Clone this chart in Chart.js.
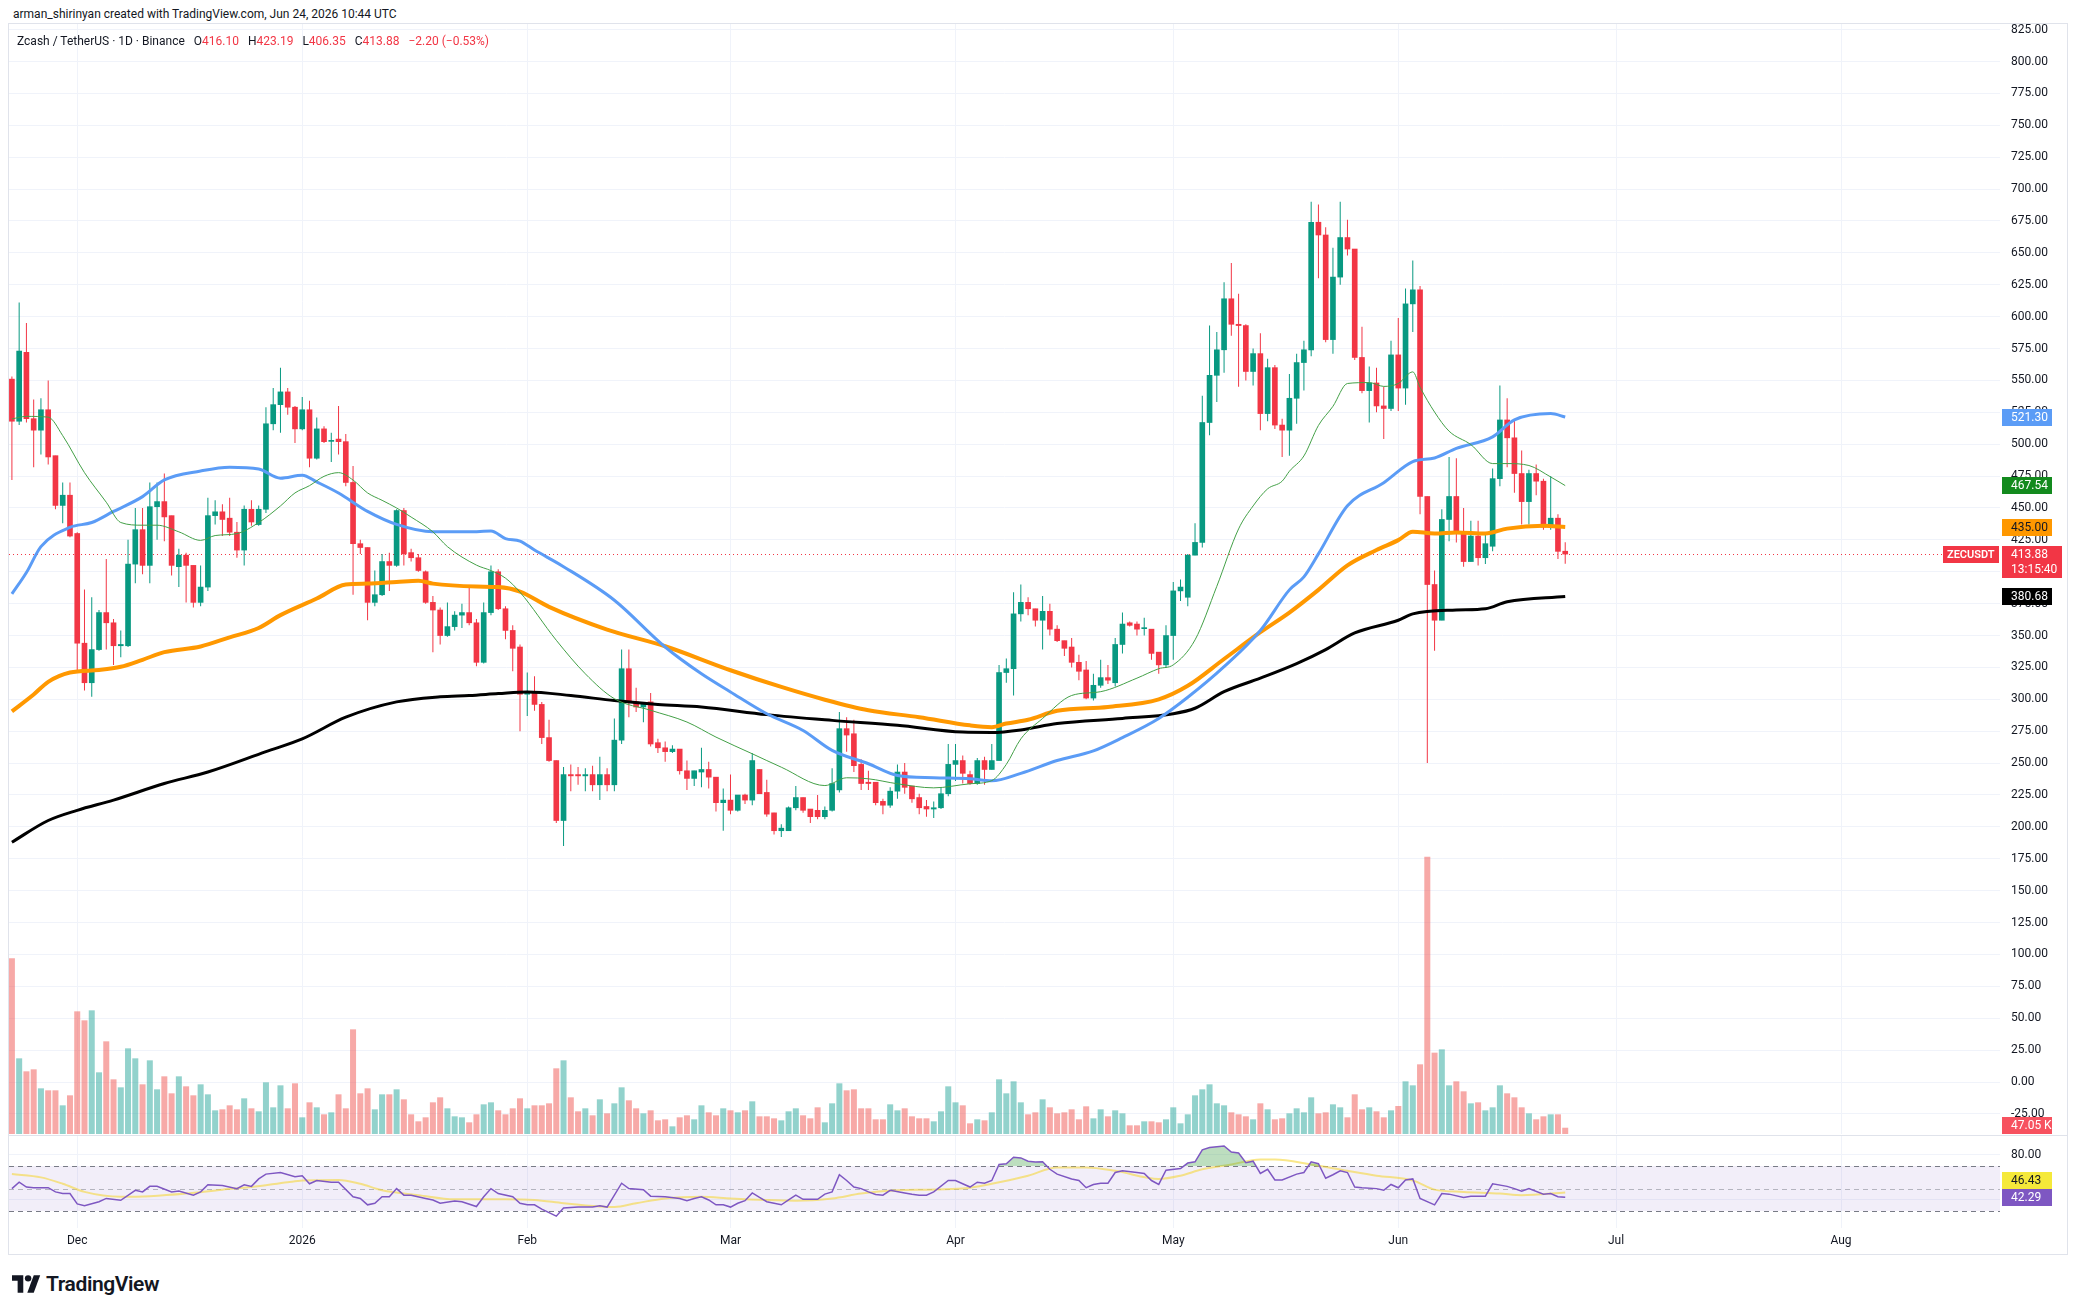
<!DOCTYPE html>
<html>
<head>
<meta charset="utf-8">
<title>ZECUSDT 1D</title>
<script src="https://cdn.jsdelivr.net/npm/chart.js@4.4.1/dist/chart.umd.min.js"></script>
<style>
  html, body { margin: 0; padding: 0; background: #ffffff; }
  body { width: 2078px; height: 1314px; position: relative; overflow: hidden; font-family: Roboto, "Noto Sans", sans-serif; color: #131722; }
  #credit { position: absolute; left: 13px; top: 7px; font-size: 12px; white-space: nowrap; }
  #frame { position: absolute; left: 8px; top: 23px; width: 2060px; height: 1232px; border: 1px solid #e0e3eb; box-sizing: border-box; }
  #paneSep { position: absolute; left: 9px; top: 1135px; width: 2058px; height: 1px; background: #e0e3eb; }
  #mainWrap { position: absolute; left: 9px; top: 24px; }
  #rsiWrap { position: absolute; left: 9px; top: 1136px; }
  #legend { position: absolute; left: 17px; top: 34px; font-size: 12px; white-space: nowrap; z-index: 2; }
  #legend .v { color: #f23645; }
  #legend .gap { margin-left: 9px; }
  #logo { position: absolute; left: 12px; top: 1272px; display: flex; align-items: center; }
  #logo span { font-size: 21px; font-weight: 600; letter-spacing: -0.4px; margin-left: 5px; color: #131722; }
</style>
</head>
<body>
<div id="credit">arman_shirinyan created with TradingView.com, Jun 24, 2026 10:44 UTC</div>
<div id="frame"></div>
<div id="mainWrap"><canvas id="mainChart" width="2058" height="1110"></canvas></div>
<div id="paneSep"></div>
<div id="rsiWrap"><canvas id="rsiChart" width="2058" height="118"></canvas></div>
<div id="legend">Zcash / TetherUS · 1D · Binance<span class="gap">O</span><span class="v">416.10</span><span class="gap">H</span><span class="v">423.19</span><span class="gap">L</span><span class="v">406.35</span><span class="gap">C</span><span class="v">413.88</span><span class="v gap">−2.20 (−0.53%)</span></div>
<div id="logo">
  <svg width="29" height="18" viewBox="0 0 36 22"><path d="M14 22H7V7H0V0h14v22z" fill="#131722"/><circle cx="20" cy="4" r="4" fill="#131722"/><path d="M27 22h-8l8-22h8l-8 22z" fill="#131722"/></svg>
  <span>TradingView</span>
</div>
<script>
// ZEC/USDT daily candles, Nov 22 2025 .. Jun 24 2026. Day 0 = Dec 1 2025.
const firstDay = -9;

const opens = [
  551, 518, 572, 520, 511, 527, 491, 452, 460,
  430, 344, 313, 339, 368, 360, 342, 342, 406, 433,
  405, 451, 455, 444, 404, 413, 405, 376, 388, 444,
  447, 442, 431, 417, 449, 437, 449, 516, 531, 541,
  529, 512, 527, 489, 512, 503, 504, 502, 470, 422,
  419, 376, 382, 408, 405, 448, 415, 411, 400, 376,
  370, 350, 357, 366, 368, 360, 329, 368, 400, 371,
  354, 341, 304, 305, 296, 270, 252, 205, 241, 241,
  240, 241, 233, 241, 233, 268, 324, 298, 294, 298,
  266, 262, 259, 261, 244, 238, 243, 245, 239, 219,
  221, 213, 225, 221, 245, 227, 211, 197, 197, 215,
  223, 214, 213, 208, 213, 229, 277, 273, 249, 235,
  235, 220, 217, 228, 243, 232, 223, 216, 214, 215,
  226, 249, 252, 241, 234, 252, 245, 252, 321, 324,
  367, 376, 371, 362, 369, 355, 346, 341, 329, 323,
  301, 311, 317, 313, 343, 360, 359, 355.4, 355, 337,
  327, 350, 385, 380, 413, 423, 517, 554, 574, 614,
  594, 593, 557, 571, 524, 560, 515, 511, 536, 564,
  574, 674, 664, 582, 631, 662, 653, 568, 542, 548,
  530, 528, 570, 544, 610, 621, 459, 390, 362, 441,
  459, 431, 408, 428, 411, 420, 473, 519, 505, 477,
  455, 477, 471, 435, 442, 416.10
];
const highs = [
  553, 611, 595, 535, 536, 550, 491, 470, 470,
  431, 386, 380, 370, 410, 363, 354, 425, 450, 450,
  470, 470, 477, 444, 418, 415, 405, 405, 458, 456,
  453, 458, 439, 452, 456, 452, 529, 544, 560, 544,
  530, 537, 534, 521, 514, 509, 530, 508, 483, 425,
  419, 401, 414, 415, 449, 450, 418, 414, 401, 381,
  372, 376, 369, 375, 388, 363, 376, 405, 402, 373,
  358, 343, 321, 318, 298, 284, 252, 247, 249, 247,
  246, 248, 255, 246, 285, 339, 339, 309, 297, 305,
  269, 267, 264, 261, 252, 244, 262, 251, 239, 230,
  241, 225, 226, 258, 245, 237, 211, 202, 216, 232,
  223, 214, 225, 216, 246, 290, 286, 284, 253, 244,
  235, 222, 231, 249, 250, 232, 226, 221, 220, 231,
  265, 265, 256, 244, 254, 255, 265, 327, 332, 384,
  390, 380, 371, 381, 375, 358, 346, 348, 335, 330,
  320, 331, 327, 348, 368, 361, 361, 364, 355, 337,
  358, 392, 394, 414, 438, 538, 593, 588, 627, 642,
  618, 594, 575, 587, 567, 562, 520, 555, 571, 581,
  690, 688, 670, 654, 690, 676, 653, 592, 561, 560,
  545, 581, 599, 622, 644, 624, 459, 401, 449, 490,
  489, 450, 440, 440, 430, 481, 546, 536, 519, 495,
  480, 484, 473, 475, 445, 423.19
];
const lows = [
  472, 515, 517, 482, 492, 484, 449, 438, 427,
  321, 307, 302, 338, 339, 327, 333, 341, 391, 398,
  391, 425, 424, 397, 388, 376, 372, 373, 385, 437,
  428, 428, 411, 405, 436, 436, 446, 511, 509, 523,
  501, 511, 482, 488, 501, 486, 492, 467, 382, 414,
  362, 373, 381, 385, 404, 405, 408, 400, 375, 337,
  343, 349, 354, 356, 358, 326, 328, 366, 370, 347,
  322, 275, 287, 291, 265, 251, 203, 185, 228, 233,
  228, 228, 221, 228, 228, 265, 286, 290, 282, 263,
  258, 251, 258, 241, 229, 232, 231, 230, 212, 197,
  210, 212, 218, 217, 226, 208, 194, 192, 197, 213,
  211, 203, 206, 206, 212, 227, 259, 243, 229, 229,
  217, 210, 215, 222, 226, 219, 210, 208, 207, 214,
  224, 236, 234, 233, 233, 233, 245, 252, 313, 303,
  361, 366, 357, 339, 350, 345, 334, 325, 315, 300,
  299, 309, 312, 310, 336, 357, 350, 350, 331, 320,
  325, 331, 377, 373, 413, 419, 507, 533, 556, 585,
  545, 550, 546, 511, 518, 512, 490, 491, 516, 542,
  569, 630, 580, 571, 625, 648, 566, 540, 517, 525,
  504, 526, 526, 531, 588, 445, 250, 338, 362, 424,
  423, 404, 408, 405, 406, 416, 467, 482, 462, 437,
  437, 460, 433, 433, 410, 406.35
];
const closes = [
  518, 573, 520, 511, 527, 490, 452, 460, 428,
  344, 313, 339, 368, 360, 342, 343, 406, 433, 405,
  451, 455, 443, 405, 413, 405, 376, 388, 444, 447,
  441, 431, 417, 449, 439, 449, 516, 531, 541, 529,
  512, 527, 489, 512, 502, 503, 502, 470, 422, 419,
  376, 382, 408, 405, 448, 414, 411, 401, 376, 370,
  350, 357, 366, 368, 360, 329, 368, 400, 371, 354,
  340, 304, 305, 296, 270, 252, 205, 241, 240, 240,
  241, 233, 241, 233, 268, 324, 298, 294, 297, 265,
  262, 259, 261, 244, 238, 244, 245, 239, 219, 221,
  213, 225, 221, 252, 226, 210, 197, 199, 215, 223,
  213, 208, 208, 213, 234, 277, 272, 248, 234, 234,
  219, 217, 228, 243, 231, 222, 215, 214, 215, 226,
  249, 252, 242, 234, 252, 245, 252, 321, 324, 367,
  376, 371, 362, 369, 355, 346, 340, 329, 322, 301,
  311, 317, 315, 343, 359, 358, 355, 355.6, 336, 327,
  350, 385, 388, 413, 423, 517, 554, 574, 614, 594,
  593, 557, 571, 524, 560, 515, 511, 536, 564, 574,
  674, 664, 582, 631, 662, 653, 568, 542, 548, 530,
  528, 570, 544, 610, 621, 459, 390, 362, 441, 459,
  431, 408, 428, 411, 422, 473, 519, 505, 477, 455,
  477, 471, 435, 442, 416, 413.88
];
// volume, thousands of ZEC
const volumes = [
  1317.5, 567.5, 470, 485, 342.5, 327.5, 327.5, 215, 290,
  920, 852.5, 927.5, 462.5, 695, 410, 350, 642.5, 567.5, 372.5,
  552.5, 335, 432.5, 305, 432.5, 357.5, 290, 372.5, 297.5, 177.5,
  185, 215, 185, 267.5, 192.5, 170, 387.5, 200, 365, 192.5,
  380, 125, 237.5, 200, 147.5, 162.5, 297.5, 192.5, 785, 305,
  342.5, 185, 297.5, 297.5, 335, 260, 147.5, 95, 125, 237.5,
  275, 192.5, 132.5, 125, 87.5, 147.5, 222.5, 237.5, 177.5, 147.5,
  192.5, 267.5, 192.5, 215, 215, 230, 492.5, 552.5, 275, 170,
  192.5, 140, 260, 155, 230, 350, 252.5, 192.5, 155, 177.5,
  102.5, 110, 57.5, 125, 140, 110, 215, 162.5, 140, 192.5,
  177.5, 162.5, 177.5, 245, 132.5, 132.5, 117.5, 102.5, 170, 192.5,
  140, 117.5, 200, 87.5, 230, 380, 327.5, 335, 192.5, 192.5,
  110, 110, 222.5, 177.5, 192.5, 132.5, 117.5, 117.5, 95, 170,
  357.5, 237.5, 215, 80, 110, 102.5, 162.5, 410, 305, 395,
  237.5, 147.5, 162.5, 260, 200, 155, 162.5, 185, 110, 207.5,
  117.5, 185, 132.5, 177.5, 155, 65, 65, 95, 95, 87.5,
  110, 200, 80, 147.5, 290, 335, 372.5, 230, 215, 162.5,
  147.5, 132.5, 110, 230, 185, 110, 117.5, 155, 192.5, 162.5,
  275, 155, 162.5, 222.5, 200, 125, 297.5, 185, 200, 170,
  125, 177.5, 210, 395, 365, 522.5, 2080, 610, 635, 365,
  395, 320, 230, 237.5, 177.5, 200, 365, 305, 275, 200,
  155, 110, 132.5, 147.5, 147.5, 47.05
];

// moving averages, [day, value]
const sma20 = [
  [-9, 519.8], [-7, 521.8], [-4, 521.2], [-2, 506.7], [1, 477.7], [4, 454.5], [6, 438.6], [9, 436.5],
  [11, 436.5], [14, 431.3], [17, 424.6], [19, 428.4], [22, 429.9], [25, 438.6], [28, 451.6], [30, 461.8],
  [32, 467.5], [34, 474.8], [36, 477.7], [38, 471.9], [40, 461.8], [42, 456], [44, 450], [46, 442.9],
  [49, 431.3], [51, 419.7], [55, 405.2], [57, 400.9], [59, 395], [61, 384], [66, 346.3], [70, 320],
  [74, 300.5], [79, 291.4], [84, 282.2], [88, 270.4], [93, 257.3], [97, 246.8], [103, 232.4], [106, 238.5],
  [109, 237.7], [113, 233.8], [118, 230.6], [123, 233.8], [126, 236.3], [128, 249], [130, 269], [133, 285],
  [137, 303], [141, 306], [146, 316.6], [149, 324], [151, 327], [154, 346.6], [157, 388.6], [160, 433.6],
  [162, 451.6], [164, 465], [166, 471], [167, 478.8], [169, 490.8], [171, 514.7], [173, 529.7], [175, 547.6],
  [178, 548.3], [180, 545.3], [182, 547.6], [184, 556.7], [185, 544.7], [187, 525.2], [189, 510.2], [192, 499.7],
  [195, 484.8], [197, 484.8], [200, 483.3], [203, 474.3], [205, 467.54]
];
const sma50 = [
  [-9, 382.6], [-7, 399.4], [-5, 419.7], [-1, 434.8], [2, 438.6], [5, 447.3], [9, 458.9], [12, 472],
  [17, 479], [21, 482], [25, 480.6], [28, 473.4], [31, 475.7], [33, 470.4], [36, 461.7], [40, 447.3],
  [44, 437.1], [49, 431.3], [54, 431.3], [57, 431.9], [59, 426], [61, 424], [63, 417], [67, 404],
  [74, 377.7], [81, 341], [86, 320], [90, 305.8], [95, 288.7], [100, 275.6], [104, 260], [109, 249.5],
  [113, 240.3], [118, 238.5], [123, 237.7], [126, 236.1], [130, 242], [135, 252], [140, 259.6], [144, 270],
  [149, 285], [153, 301.6], [158, 325.6], [163, 354], [167, 385.8], [169, 396], [171, 414], [175, 451.8],
  [180, 469.8], [184, 486.3], [187, 489.2], [190, 496.7], [195, 505.7], [198, 519], [203, 524], [205, 521.30]
];
const sma100 = [
  [-9, 290.6], [-6, 303.8], [-4, 313.7], [-1, 321], [3, 323], [6, 325.5], [9, 331], [12, 337],
  [17, 341.4], [21, 348.6], [25, 355.9], [28, 366], [33, 379], [37, 390], [40, 390.7], [44, 392],
  [47, 393], [49, 390.7], [55, 388.4], [58, 388], [61, 384.5], [65, 372.5], [73, 354.7], [81, 341.6],
  [90, 322.8], [97, 309.7], [103, 299.7], [109, 291.4], [116, 286], [123, 279.6], [126, 278.2], [128, 281],
  [131, 284], [135, 291], [142, 294], [149, 300], [153, 310.6], [158, 331.6], [163, 352.6], [167, 368],
  [171, 385.8], [175, 405], [179, 417], [182, 424.8], [184, 431.4], [187, 430], [190, 430.8], [194, 430],
  [197, 433.8], [202, 436], [205, 435.00]
];
const sma200 = [
  [-9, 188], [-4, 205], [0, 213], [5, 221], [12, 234], [18, 243], [26, 259], [31, 269],
  [37, 286], [44, 298], [50, 302], [54, 303], [58, 304.5], [62, 305.8], [68, 303], [74, 299],
  [80, 296], [86, 294], [95, 288], [104, 283.5], [113, 279.6], [122, 274.3], [126, 274], [130, 276],
  [135, 281], [144, 285], [151, 288.7], [154, 293], [158, 306], [163, 316.6], [168, 328], [172, 339],
  [176, 352], [182, 362], [184, 367], [190, 370], [194, 371], [197, 376.5], [205, 380.68]
];

// RSI(14) and its moving average, [day, value]
const rsi = [
  [-9, 49.9], [-8, 55.6], [-7, 51.3], [-6, 50.7], [-4, 50.7], [-3, 47.0], [-2, 45.5], [-1, 45.5],
  [0, 36.3], [1, 34.6], [3, 38.3], [4, 41.2], [6, 39.5], [8, 48.4], [9, 47.0], [10, 51.9],
  [11, 51.9], [13, 47.0], [14, 47.8], [16, 44.1], [17, 47.0], [18, 53.3], [20, 52.7], [22, 49.9],
  [23, 53.3], [24, 51.9], [25, 58.5], [26, 62.8], [28, 64.2], [30, 60.5], [31, 61.4], [32, 54.2],
  [33, 57.1], [35, 55.6], [36, 55.6], [38, 42.7], [39, 41.2], [40, 35.5], [41, 36.9], [42, 42.7],
  [43, 42.7], [44, 49.9], [45, 44.1], [46, 44.1], [48, 41.2], [49, 39.8], [50, 36.9], [52, 38.9],
  [53, 38.3], [55, 34.0], [56, 42.7], [57, 49.9], [58, 45.5], [60, 42.7], [61, 36.9], [62, 35.5],
  [63, 35.5], [64, 31.7], [66, 25.4], [67, 32.6], [69, 33.5], [70, 33.5], [71, 33.5], [72, 34.6],
  [73, 33.5], [75, 54.7], [76, 49.9], [78, 49.0], [79, 43.2], [81, 42.7], [83, 41.2], [84, 39.2],
  [85, 41.2], [86, 42.7], [87, 39.8], [88, 35.5], [89, 35.5], [90, 33.5], [91, 36.9], [92, 39.2],
  [93, 46.1], [94, 42.1], [95, 38.3], [97, 35.5], [98, 39.8], [99, 44.1], [100, 40.4], [102, 40.4],
  [103, 45.0], [104, 47.0], [105, 62.2], [106, 57.1], [107, 51.3], [108, 49.9], [109, 47.0], [110, 44.7],
  [111, 44.1], [112, 48.4], [114, 46.1], [115, 45.0], [116, 44.1], [117, 44.1], [118, 47.0], [120, 57.1],
  [121, 57.1], [123, 51.3], [124, 55.6], [125, 54.7], [126, 57.1], [127, 71.4], [128, 72.0], [129, 77.8],
  [130, 77.2], [131, 74.3], [132, 73.5], [133, 73.7], [134, 67.1], [135, 62.8], [137, 58.5], [138, 57.1],
  [139, 50.7], [140, 53.6], [141, 54.7], [142, 54.7], [143, 64.2], [144, 65.7], [146, 64.2], [147, 63.4],
  [148, 57.1], [149, 53.6], [150, 66.3], [152, 67.7], [153, 72.6], [154, 73.7], [155, 84.4], [156, 86.4],
  [158, 87.8], [159, 82.4], [160, 81.5], [161, 72.9], [162, 74.3], [163, 63.4], [164, 67.1], [165, 57.6],
  [166, 57.6], [168, 62.8], [169, 64.2], [170, 73.7], [171, 72.0], [172, 59.1], [173, 62.2], [174, 65.7],
  [175, 64.2], [176, 51.3], [177, 50.7], [179, 49.9], [180, 48.4], [181, 53.6], [182, 50.7], [183, 57.6],
  [184, 58.5], [185, 41.2], [187, 35.5], [188, 45.5], [189, 45.0], [191, 42.1], [192, 43.2], [194, 43.2],
  [195, 54.2], [197, 51.9], [198, 49.9], [199, 47.6], [200, 49.9], [202, 45.0], [203, 45.5], [204, 42.7],
  [205, 42.29]
];
const rsiMa = [
  [-9, 62.8], [-5, 59.9], [-2, 54.2], [1, 47.0], [6, 42.7], [10, 43.2], [15, 45.5], [20, 49.0],
  [24, 51.3], [29, 55.6], [31, 57.1], [36, 57.6], [39, 54.2], [42, 48.4], [47, 44.1], [52, 40.4],
  [55, 40.4], [59, 40.4], [63, 39.8], [67, 36.9], [72, 34.0], [74, 33.5], [77, 36.9], [81, 41.2],
  [86, 42.7], [90, 41.2], [95, 39.8], [99, 39.2], [104, 41.2], [108, 45.5], [113, 48.4], [117, 49.0],
  [122, 49.9], [126, 54.2], [131, 61.4], [135, 68.6], [139, 68.6], [143, 65.7], [149, 58.5], [152, 61.4],
  [155, 67.1], [159, 71.4], [163, 75.8], [165, 75.8], [170, 71.4], [175, 65.7], [179, 61.4], [184, 57.1],
  [187, 49.0], [191, 47.0], [196, 45.5], [199, 44.1], [205, 46.43]
];

const monthDays = [0, 31, 62, 90, 121, 151, 182, 212, 243];
const monthLabels = ['Dec', '2026', 'Feb', 'Mar', 'Apr', 'May', 'Jun', 'Jul', 'Aug'];
const rsiLevels = [70, 50, 30];
const countdown = '13:15:40';
const symbol = 'ZECUSDT';

// colours
const UP = '#089981';
const DOWN = '#f23645';
const VOL_UP = 'rgba(38,166,154,0.5)';
const VOL_DOWN = 'rgba(239,83,80,0.5)';
const GREEN = '#43a047';
const GREEN_TAG = '#138a1e';
const BLUE = '#5b9cf6';
const ORANGE = '#ff9800';
const PURPLE = '#7e57c2';
const GRID = '#f0f3fa';
const TEXT = '#131722';
const TAG_FONT = '12px Roboto, "Noto Sans", sans-serif';

// view window (days) and value ranges
const xMin = -9.4;
const xMax = 264.9;
const priceMin = -40.75;
const priceMax = 829.4;
const volMax = 8325;
const rsiMin = 14.9;
const rsiMax = 96.67;

Chart.defaults.font.family = 'Roboto, "Noto Sans", sans-serif';
Chart.defaults.font.size = 12;
Chart.defaults.color = TEXT;

const days = closes.map((c, i) => firstDay + i);
const candleColors = closes.map((c, i) => c >= opens[i] ? UP : DOWN);
const volColors = closes.map((c, i) => c >= opens[i] ? VOL_UP : VOL_DOWN);
const last = arr => arr[arr.length - 1];
const lastVal = arr => last(arr)[1];
const pts = arr => arr.map(p => ({ x: p[0], y: p[1] }));

function tag(ctx, left, cy, width, bg, fg, lines, inset = 9, font = TAG_FONT) {
  const lineH = 15;
  const h = lines.length * lineH + 2;
  const top = Math.round(cy - 8.5);
  ctx.fillStyle = bg;
  ctx.fillRect(left, top, width, h);
  ctx.fillStyle = fg;
  ctx.font = font;
  ctx.textAlign = 'left';
  ctx.textBaseline = 'middle';
  lines.forEach((t, i) => ctx.fillText(t, left + inset, top + 9 + i * lineH));
  return top;
}

// keep the plot area flush with the canvas: no label overhang padding
function noPad(s) {
  s.paddingTop = 0;
  s.paddingBottom = 0;
  s.paddingLeft = 0;
  s.paddingRight = 0;
}

const mainOverlay = {
  id: 'mainOverlay',
  beforeDatasetsDraw(chart) {
    const { ctx, chartArea: a, scales: { y } } = chart;
    const py = Math.round(y.getPixelForValue(last(closes))) + 0.5;
    ctx.save();
    ctx.strokeStyle = DOWN;
    ctx.lineWidth = 1;
    ctx.setLineDash([1, 3]);
    ctx.beginPath();
    ctx.moveTo(a.left, py);
    ctx.lineTo(a.right, py);
    ctx.stroke();
    ctx.restore();
  },
  afterDraw(chart) {
    const { ctx, chartArea: a, scales: { y, yv } } = chart;
    const x0 = a.right + 2;
    ctx.save();
    tag(ctx, x0, y.getPixelForValue(lastVal(sma50)), 50, BLUE, '#fff', [lastVal(sma50).toFixed(2)]);
    tag(ctx, x0, y.getPixelForValue(lastVal(sma20)), 50, GREEN_TAG, '#fff', [lastVal(sma20).toFixed(2)]);
    tag(ctx, x0, y.getPixelForValue(lastVal(sma100)), 50, ORANGE, TEXT, [lastVal(sma100).toFixed(2)]);
    tag(ctx, x0, y.getPixelForValue(lastVal(sma200)), 50, '#000', '#fff', [lastVal(sma200).toFixed(2)]);
    const cy = y.getPixelForValue(last(closes));
    tag(ctx, x0, cy, 60, DOWN, '#fff', [last(closes).toFixed(2), countdown]);
    tag(ctx, a.right - 57, cy, 56, DOWN, '#fff', [symbol], 4, '600 11px Roboto, "Noto Sans", sans-serif');
    const vy = Math.min(yv.getPixelForValue(last(volumes)), a.bottom - 9);
    tag(ctx, x0, vy, 50, '#f7525f', '#fff', [last(volumes).toFixed(2) + ' K']);
    ctx.restore();
  }
};

const rsiOverlay = {
  id: 'rsiOverlay',
  beforeDatasetsDraw(chart) {
    const { ctx, chartArea: a, scales: { y } } = chart;
    const yTop = y.getPixelForValue(rsiLevels[0]);
    const yBot = y.getPixelForValue(rsiLevels[2]);
    ctx.save();
    ctx.fillStyle = 'rgba(126,87,194,0.1)';
    ctx.fillRect(a.left, yTop, a.right - a.left, yBot - yTop);
    rsiLevels.forEach((lv, i) => {
      const py = Math.round(y.getPixelForValue(lv)) + 0.5;
      ctx.strokeStyle = i === 1 ? 'rgba(120,123,134,0.5)' : '#787b86';
      ctx.lineWidth = 1;
      ctx.setLineDash([5, 4]);
      ctx.beginPath();
      ctx.moveTo(a.left, py);
      ctx.lineTo(a.right, py);
      ctx.stroke();
    });
    ctx.restore();
  },
  afterDraw(chart) {
    const { ctx, chartArea: a, scales: { y } } = chart;
    const x0 = a.right + 2;
    ctx.save();
    const pTop = tag(ctx, x0, y.getPixelForValue(lastVal(rsi)), 50, PURPLE, '#fff', [lastVal(rsi).toFixed(2)]);
    let my = y.getPixelForValue(lastVal(rsiMa));
    if (my > pTop - 8.5) my = pTop - 8.5;
    tag(ctx, x0, my, 50, '#f5e93a', TEXT, [lastVal(rsiMa).toFixed(2)]);
    ctx.restore();
  }
};

const monthTicks = scale => { scale.ticks = monthDays.map(v => ({ value: v })); };

new Chart(document.getElementById('mainChart'), {
  type: 'bar',
  data: {
    datasets: [
      { type: 'line', label: 'SMA 20', data: pts(sma20), borderColor: GREEN, borderWidth: 1, pointRadius: 0, cubicInterpolationMode: 'monotone', yAxisID: 'y', order: 1 },
      { type: 'line', label: 'SMA 50', data: pts(sma50), borderColor: BLUE, borderWidth: 3, pointRadius: 0, cubicInterpolationMode: 'monotone', yAxisID: 'y', order: 1 },
      { type: 'line', label: 'SMA 100', data: pts(sma100), borderColor: ORANGE, borderWidth: 4, pointRadius: 0, cubicInterpolationMode: 'monotone', yAxisID: 'y', order: 1 },
      { type: 'line', label: 'SMA 200', data: pts(sma200), borderColor: '#000000', borderWidth: 3, pointRadius: 0, cubicInterpolationMode: 'monotone', yAxisID: 'y', order: 1 },
      { label: 'Body', data: days.map((d, i) => ({ x: d, y: [opens[i], closes[i]] })), backgroundColor: candleColors, barThickness: 5, minBarLength: 1, grouped: false, yAxisID: 'y', order: 2 },
      { label: 'Wick', data: days.map((d, i) => ({ x: d, y: [lows[i], highs[i]] })), backgroundColor: candleColors, barThickness: 1, inflateAmount: 0, grouped: false, yAxisID: 'y', order: 3 },
      { label: 'Volume', data: days.map((d, i) => ({ x: d, y: volumes[i] })), backgroundColor: volColors, barThickness: 6, inflateAmount: 0, grouped: false, yAxisID: 'yv', order: 4 }
    ]
  },
  options: {
    responsive: false,
    animation: false,
    events: [],
    layout: { padding: 0 },
    plugins: { legend: { display: false }, tooltip: { enabled: false } },
    scales: {
      x: {
        type: 'linear', min: xMin, max: xMax, offset: false,
        grid: { color: GRID, drawTicks: false, offset: false },
        border: { display: false },
        ticks: { display: false },
        afterBuildTicks: monthTicks,
        afterFit: s => { s.height = 0; noPad(s); }
      },
      y: {
        position: 'right', min: priceMin, max: priceMax, beginAtZero: false,
        grid: { color: GRID, drawTicks: false },
        border: { display: false },
        ticks: { stepSize: 25, includeBounds: false, padding: 11, callback: v => v.toFixed(2) },
        afterFit: s => { s.width = 67; noPad(s); }
      },
      yv: { display: false, position: 'left', min: 0, max: volMax }
    }
  },
  plugins: [mainOverlay]
});

new Chart(document.getElementById('rsiChart'), {
  type: 'line',
  data: {
    datasets: [
      { label: 'RSI', data: pts(rsi), borderColor: PURPLE, borderWidth: 1.5, pointRadius: 0, tension: 0,
        fill: { target: { value: 70 }, above: 'rgba(67,160,71,0.35)', below: 'rgba(0,0,0,0)' }, order: 1 },
      { label: 'RSI MA', data: pts(rsiMa), borderColor: 'rgba(245,215,60,0.6)', borderWidth: 2, pointRadius: 0,
        cubicInterpolationMode: 'monotone', fill: false, order: 2 }
    ]
  },
  options: {
    responsive: false,
    animation: false,
    events: [],
    layout: { padding: 0 },
    plugins: { legend: { display: false }, tooltip: { enabled: false } },
    scales: {
      x: {
        type: 'linear', min: xMin, max: xMax,
        grid: { color: GRID, drawTicks: false },
        border: { display: false },
        ticks: { autoSkip: false, maxRotation: 0, padding: 6, callback: (v, i) => monthLabels[i] },
        afterBuildTicks: monthTicks,
        afterFit: s => { s.height = 26; noPad(s); }
      },
      y: {
        position: 'right', min: rsiMin, max: rsiMax,
        grid: { color: GRID, drawTicks: false },
        border: { display: false },
        ticks: { stepSize: 40, includeBounds: false, padding: 11, callback: v => v.toFixed(2) },
        afterFit: s => { s.width = 67; noPad(s); }
      }
    }
  },
  plugins: [rsiOverlay]
});
</script>
</body>
</html>
